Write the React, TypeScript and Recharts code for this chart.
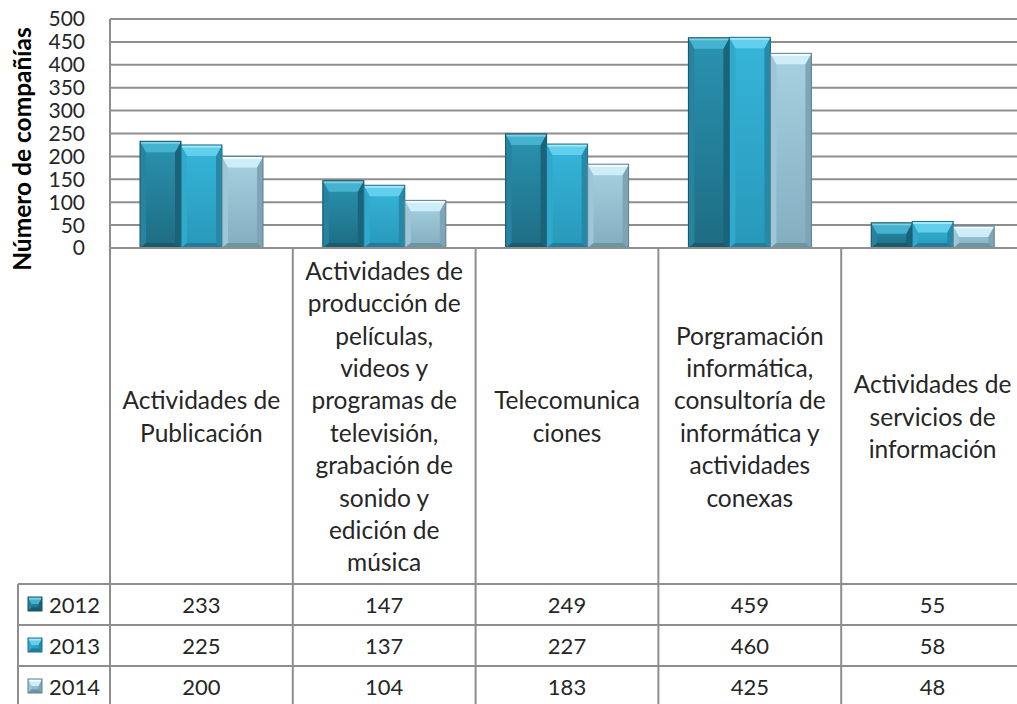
import React from "react";
import { BarChart, Bar, XAxis, YAxis, CartesianGrid } from "recharts";

// categorías (con los saltos de línea del original)
const categorias = [
  ["Actividades de", "Publicación"],
  ["Actividades de", "producción de", "películas,", "videos y", "programas de", "televisión,", "grabación de", "sonido y", "edición de", "música"],
  ["Telecomunica", "ciones"],
  ["Porgramación", "informática,", "consultoría de", "informática y", "actividades", "conexas"],
  ["Actividades de", "servicios de", "información"],
];
const anios = ["2012", "2013", "2014"];
const valores2012 = [233, 147, 249, 459, 55];
const valores2013 = [225, 137, 227, 460, 58];
const valores2014 = [200, 104, 183, 425, 48];
const ticksY = [0, 50, 100, 150, 200, 250, 300, 350, 400, 450, 500];

const series = [valores2012, valores2013, valores2014];

const data = categorias.map((c, i) => ({
  nombre: c.join(" "),
  "2012": valores2012[i],
  "2013": valores2013[i],
  "2014": valores2014[i],
}));

const GRIS = "#8e8e8e";
const TEXTO = "#262626";
const FUENTE = "Lato, 'Noto Sans', sans-serif";

const paletas = [
  { top: "#45b3cf", hi: "#7fd0e4", body1: "#2a93b0", body2: "#1d6c83", left: "#2684a0", right: "#1a6378", bottom: "#195a6c", edge: "#175266" },
  { top: "#62d0ec", hi: "#a4e8f8", body1: "#36b6da", body2: "#2898b9", left: "#31a9cc", right: "#258aa8", bottom: "#207e9a", edge: "#1c6f88" },
  { top: "#cdeef8", hi: "#f2fcff", body1: "#a6d2e2", body2: "#82aebf", left: "#9dc7d7", right: "#7da5b5", bottom: "#6d94a3", edge: "#607f8c" },
];

function BarraBisel(props: any) {
  const { x, y, width: w, height: h, pal, id } = props;
  if (!h || h <= 0) return null;
  const bt = Math.min(11, h / 2, w / 2);
  const bs = Math.min(6, w / 4);
  const bb = Math.min(5, h / 4);
  const gid = `g-${id}`;
  return (
    <g>
      <defs>
        <linearGradient id={gid} x1="0" y1="0" x2="0" y2="1">
          <stop offset="0" stopColor={pal.body1} />
          <stop offset="1" stopColor={pal.body2} />
        </linearGradient>
      </defs>
      <rect x={x} y={y} width={w} height={h} fill={`url(#${gid})`} />
      <polygon points={`${x},${y} ${x + bs},${y + bt} ${x + bs},${y + h - bb} ${x},${y + h}`} fill={pal.left} />
      <polygon points={`${x + w},${y} ${x + w - bs},${y + bt} ${x + w - bs},${y + h - bb} ${x + w},${y + h}`} fill={pal.right} />
      <polygon points={`${x},${y + h} ${x + bs},${y + h - bb} ${x + w - bs},${y + h - bb} ${x + w},${y + h}`} fill={pal.bottom} />
      <polygon points={`${x},${y} ${x + w},${y} ${x + w - bs},${y + bt} ${x + bs},${y + bt}`} fill={pal.top} />
      <line x1={x + 1} x2={x + w - 1} y1={y + 1.5} y2={y + 1.5} stroke={pal.hi} strokeWidth={2} />
      <rect x={x} y={y} width={w} height={h} fill="none" stroke={pal.edge} strokeWidth={1} />
    </g>
  );
}

function IconoLeyenda({ x, y, pal }: any) {
  return <BarraBisel x={x} y={y} width={14} height={14} pal={pal} id={`ley-${pal.top}`} />;
}

// tabla de datos bajo el eje, dibujada en cada tick de categoría
function TickTabla(props: any) {
  const { x, y, payload } = props;
  const i = payload.index;
  const half = payload.offset || 91.4;
  const izq = x - half;
  const der = x + half;
  const top = y;
  const filas = [336, 377, 418];
  const fondo = 460;
  const lineas = categorias[i];
  const lh = 32.4;
  const cy = top + 168;
  return (
    <g fontFamily={FUENTE}>
      <line x1={izq} x2={izq} y1={top} y2={top + fondo} stroke={GRIS} strokeWidth={2} />
      {i === categorias.length - 1 && (
        <line x1={der} x2={der} y1={top} y2={top + fondo} stroke={GRIS} strokeWidth={2} />
      )}
      {filas.map((f) => (
        <line key={f} x1={izq} x2={der} y1={top + f} y2={top + f} stroke={GRIS} strokeWidth={2} />
      ))}
      {lineas.map((t, k) => (
        <text
          key={k}
          x={x}
          y={cy + (k - (lineas.length - 1) / 2) * lh}
          textAnchor="middle"
          dominantBaseline="central"
          fontSize={24.5}
          fill={TEXTO}
        >
          {t}
        </text>
      ))}
      {series.map((s, k) => (
        <text
          key={k}
          x={x}
          y={top + filas[k] + 20.5}
          textAnchor="middle"
          dominantBaseline="central"
          fontSize={22}
          fill={TEXTO}
        >
          {s[i]}
        </text>
      ))}
      {i === 0 && (
        <g>
          <line x1={18} x2={18} y1={top + filas[0]} y2={top + fondo} stroke={GRIS} strokeWidth={2} />
          {filas.map((f) => (
            <line key={f} x1={18} x2={izq} y1={top + f} y2={top + f} stroke={GRIS} strokeWidth={2} />
          ))}
          {anios.map((a, k) => (
            <g key={a}>
              <IconoLeyenda x={28} y={top + filas[k] + 13} pal={paletas[k]} />
              <text x={49} y={top + filas[k] + 20.5} dominantBaseline="central" fontSize={22} fill={TEXTO}>
                {a}
              </text>
            </g>
          ))}
        </g>
      )}
    </g>
  );
}

export default function App() {
  return (
    <div style={{ position: "absolute", left: 0, top: 0, width: 1017, height: 704, overflow: "hidden", background: "#fff" }}>
      <BarChart
        width={1024}
        height={708}
        data={data}
        margin={{ top: 19, right: 0, left: 0, bottom: 0 }}
        barCategoryGap={30}
        barGap={0}
      >
        <CartesianGrid vertical={false} stroke={GRIS} strokeWidth={2} />
        <XAxis
          dataKey="nombre"
          height={460}
          interval={0}
          tickLine={false}
          tickSize={0}
          tickMargin={0}
          axisLine={{ stroke: GRIS, strokeWidth: 2 }}
          tick={<TickTabla />}
        />
        <YAxis
          width={110}
          domain={[0, 500]}
          ticks={ticksY}
          interval={0}
          tickLine={false}
          tickSize={6}
          tickMargin={19}
          axisLine={{ stroke: GRIS, strokeWidth: 2 }}
          tick={{ fontSize: 21, fill: TEXTO, fontFamily: FUENTE }}
        />
        {anios.map((a, k) => (
          <Bar
            key={a}
            dataKey={a}
            isAnimationActive={false}
            shape={(p: any) => <BarraBisel {...p} pal={paletas[k]} id={`${a}-${p.index}`} />}
          />
        ))}
      </BarChart>
      <svg width={44} height={300} style={{ position: "absolute", left: 0, top: 0 }}>
        <text
          transform="translate(21 149) rotate(-90)"
          textAnchor="middle"
          dominantBaseline="central"
          fontFamily={FUENTE}
          fontWeight="bold"
          fontSize={24.5}
          fill="#000"
        >
          Número de compañías
        </text>
      </svg>
    </div>
  );
}
